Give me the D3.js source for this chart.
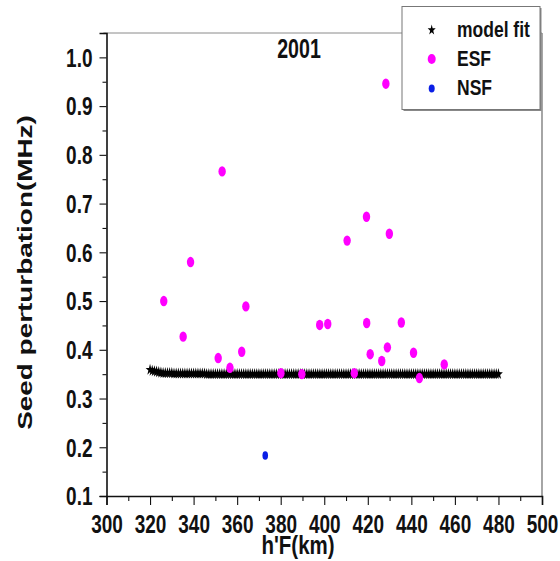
<!DOCTYPE html>
<html>
<head>
<meta charset="utf-8">
<script src="https://cdn.jsdelivr.net/npm/d3@7"></script>
<style>
  body { margin: 0; background: #fff; }
  svg { display: block; font-family: "Liberation Sans", Arial, sans-serif; font-weight: bold; }
</style>
</head>
<body>
<div id="chart"></div>
<script>
// ESF observations: h'F (km) and seed perturbation (MHz)
const esfX = [326.3, 335.2, 338.6, 353.1, 364.0, 351.3, 356.7, 362.1, 380.1, 389.7,
              413.8, 421.1, 426.4, 429.0, 441.0, 455.1, 443.7, 428.3, 419.4, 410.5,
              429.9, 397.9, 401.6, 419.5, 435.4];
const esfY = [0.500, 0.427, 0.580, 0.766, 0.489, 0.383, 0.363, 0.396, 0.352, 0.350,
              0.352, 0.391, 0.377, 0.405, 0.394, 0.370, 0.342, 0.946, 0.673, 0.624,
              0.638, 0.451, 0.453, 0.455, 0.456];

// NSF observation
const nsfX = [372.9];
const nsfY = [0.183];

// model fit, one value per km from 320 to 480
const modelX = [320,321,322,323,324,325,326,327,328,329,330,331,332,333,334,335,336,337,338,339,
  340,341,342,343,344,345,346,347,348,349,350,351,352,353,354,355,356,357,358,359,
  360,361,362,363,364,365,366,367,368,369,370,371,372,373,374,375,376,377,378,379,
  380,381,382,383,384,385,386,387,388,389,390,391,392,393,394,395,396,397,398,399,
  400,401,402,403,404,405,406,407,408,409,410,411,412,413,414,415,416,417,418,419,
  420,421,422,423,424,425,426,427,428,429,430,431,432,433,434,435,436,437,438,439,
  440,441,442,443,444,445,446,447,448,449,450,451,452,453,454,455,456,457,458,459,
  460,461,462,463,464,465,466,467,468,469,470,471,472,473,474,475,476,477,478,479,480];
const modelY = [0.359,0.357,0.356,0.355,0.354,0.353,0.352,0.352,0.352,0.352,0.352,
  0.351,0.351,0.351,0.351,0.351,0.351,0.351,0.351,0.351,0.351,0.351,0.351,0.351,0.351,0.351,
  0.350,0.350,0.350,0.350,0.350,0.350,0.350,0.350,0.350,0.350,0.350,0.350,0.350,0.350,
  0.350,0.350,0.350,0.350,0.350,0.350,0.350,0.350,0.350,0.350,0.350,0.350,0.350,0.350,
  0.350,0.350,0.350,0.350,0.350,0.350,0.350,0.350,0.350,0.350,0.350,0.350,0.350,0.350,
  0.350,0.350,0.350,0.350,0.350,0.350,0.350,0.350,0.350,0.350,0.350,0.350,0.350,0.350,
  0.350,0.350,0.350,0.350,0.350,0.350,0.350,0.350,0.350,0.350,0.350,0.350,0.350,0.350,
  0.350,0.350,0.350,0.350,0.350,0.350,0.350,0.350,0.350,0.350,0.350,0.350,0.350,0.350,
  0.350,0.350,0.350,0.350,0.350,0.350,0.350,0.350,0.350,0.350,0.350,0.350,0.350,0.350,
  0.350,0.350,0.350,0.350,0.350,0.350,0.350,0.350,0.350,0.350,0.350,0.350,0.350,0.350,
  0.350,0.350,0.350,0.350,0.350,0.350,0.350,0.350,0.350,0.350,0.350,0.350,0.350,0.350,
  0.350,0.350,0.350,0.350,0.350,0.350,0.350,0.350,0.350];

const xTicks = [300, 320, 340, 360, 380, 400, 420, 440, 460, 480, 500];
const xMinor = [310, 330, 350, 370, 390, 410, 430, 450, 470, 490];
const yTicks = [0.1, 0.2, 0.3, 0.4, 0.5, 0.6, 0.7, 0.8, 0.9, 1.0];
const yMinor = [0.15, 0.25, 0.35, 0.45, 0.55, 0.65, 0.75, 0.85, 0.95, 1.05];

const legendItems = ["model fit", "ESF", "NSF"];

const W = 560, H = 561;
const margin = { top: 33, right: 18, bottom: 65, left: 106.5 };
const width = W - margin.left - margin.right;
const height = H - margin.top - margin.bottom;
const stretch = 1.32; // the original picture is squeezed horizontally

const svg = d3.select("#chart").append("svg")
  .attr("width", W).attr("height", H);

const g = svg.append("g")
  .attr("transform", `translate(${margin.left},${margin.top})`);

const x = d3.scaleLinear().domain([300, 500]).range([0, width]);
const y = d3.scaleLinear().domain([0.1, 1.05]).range([height, 0]);

// frame (top and right)
g.append("line").attr("x1", -3).attr("x2", width).attr("y1", 0).attr("y2", 0)
  .attr("stroke", "#8a8a8a").attr("stroke-width", 1);
g.append("line").attr("x1", width).attr("x2", width).attr("y1", 0).attr("y2", height)
  .attr("stroke", "#6a6a6a").attr("stroke-width", 1.2);

// axes
const xAxis = g.append("g").attr("transform", `translate(0,${height})`)
  .call(d3.axisBottom(x).tickValues(xTicks).tickSize(9).tickFormat(d3.format("d")));
g.append("g").attr("transform", `translate(0,${height})`)
  .call(d3.axisBottom(x).tickValues(xMinor).tickSize(5).tickFormat(""))
  .select(".domain").remove();

const yAxis = g.append("g")
  .call(d3.axisLeft(y).tickValues(yTicks).tickSize(7).tickFormat(d3.format(".1f")));
g.append("g")
  .call(d3.axisLeft(y).tickValues(yMinor).tickSize(4).tickFormat(""))
  .select(".domain").remove();

g.selectAll(".domain").attr("stroke", "#111").attr("stroke-width", 1.6);
g.selectAll(".tick line").attr("stroke", "#111").attr("stroke-width", 1.1);

xAxis.selectAll("text")
  .attr("y", 0).attr("dy", 0)
  .attr("transform", `translate(0,36.5) scale(1,${stretch})`)
  .attr("font-size", 19).attr("font-family", null).attr("fill", "#111");
yAxis.selectAll("text")
  .attr("x", 0).attr("dy", 0)
  .attr("transform", `translate(-14,8.8) scale(1,${stretch})`)
  .attr("font-size", 19).attr("font-family", null).attr("fill", "#111");

// model fit stars
const star = d3.symbol().type(d3.symbolStar).size(24);
g.append("g").selectAll("path")
  .data(modelX.map((v, i) => [v, modelY[i]]))
  .join("path")
  .attr("d", star)
  .attr("transform", d => `translate(${x(d[0])},${y(d[1])}) scale(1,${stretch})`)
  .attr("fill", "#000");

// ESF
g.append("g").selectAll("ellipse")
  .data(esfX.map((v, i) => [v, esfY[i]]))
  .join("ellipse")
  .attr("cx", d => x(d[0])).attr("cy", d => y(d[1]))
  .attr("rx", 3.7).attr("ry", 5.2)
  .attr("fill", "#ff00ff");

// NSF
g.append("g").selectAll("ellipse")
  .data(nsfX.map((v, i) => [v, nsfY[i]]))
  .join("ellipse")
  .attr("cx", d => x(d[0])).attr("cy", d => y(d[1]))
  .attr("rx", 2.8).attr("ry", 4.3)
  .attr("fill", "#0a1ee6");

// title
svg.append("text")
  .attr("transform", `translate(299,58) scale(1,1.38)`)
  .attr("text-anchor", "middle").attr("font-size", 19.6).attr("fill", "#111")
  .text("2001");

// axis labels
svg.append("text")
  .attr("transform", `translate(298,554) scale(1,1.3)`)
  .attr("text-anchor", "middle").attr("font-size", 20.5).attr("fill", "#111")
  .text("h'F(km)");
svg.append("text")
  .attr("transform", `translate(32,272.5) rotate(-90) scale(1.33,1)`)
  .attr("text-anchor", "middle").attr("font-size", 21).attr("fill", "#111")
  .text("Seed perturbation(MHz)");

// legend
const lg = svg.append("g");
lg.append("rect").attr("x", 403.5).attr("y", 8).attr("width", 138).attr("height", 103)
  .attr("fill", "#888");
lg.append("rect").attr("x", 402).attr("y", 6.5).attr("width", 138).attr("height", 103)
  .attr("fill", "#fff").attr("stroke", "#777").attr("stroke-width", 1);
const rowY = [30, 59, 88.5];
lg.append("path").attr("d", d3.symbol().type(d3.symbolStar).size(20))
  .attr("transform", `translate(431.7,${rowY[0]}) scale(1,${stretch})`).attr("fill", "#000");
lg.append("ellipse").attr("cx", 431.7).attr("cy", rowY[1]).attr("rx", 4).attr("ry", 5).attr("fill", "#ff00ff");
lg.append("ellipse").attr("cx", 431.7).attr("cy", rowY[2]).attr("rx", 3).attr("ry", 4).attr("fill", "#0a1ee6");
lg.selectAll("text.leg").data(legendItems).join("text")
  .attr("class", "leg")
  .attr("transform", (d, i) => `translate(457,${rowY[i] + 6.5}) scale(1,1.25)`)
  .attr("font-size", 17.5).attr("fill", "#111")
  .text(d => d);
</script>
</body>
</html>
